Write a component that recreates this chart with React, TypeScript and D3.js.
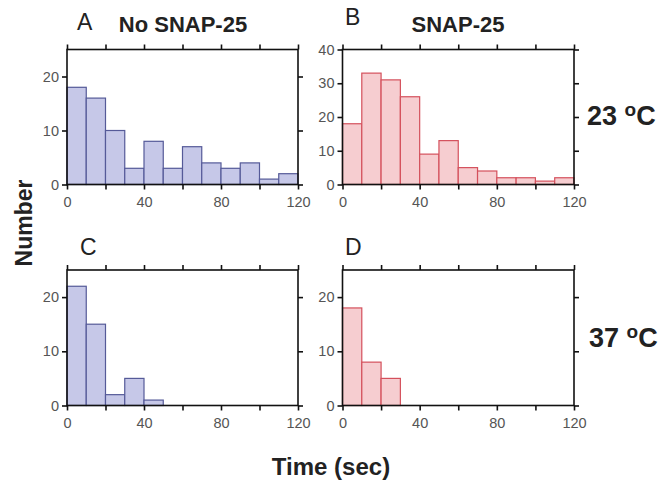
import React, { useEffect, useRef } from "react";
import * as d3 from "d3";

// bin starts (sec), 10 s wide
const binStarts = [0, 10, 20, 30, 40, 50, 60, 70, 80, 90, 100, 110];
// counts per bin
const noSnap23 = [18, 16, 10, 3, 8, 3, 7, 4, 3, 4, 1, 2];
const snap23 = [18, 33, 31, 26, 9, 13, 5, 4, 2, 2, 1, 2];
const noSnap37 = [22, 15, 2, 5, 1, 0, 0, 0, 0, 0, 0, 0];
const snap37 = [18, 8, 5, 0, 0, 0, 0, 0, 0, 0, 0, 0];

const xTickVals = [0, 20, 40, 60, 80, 100, 120];
const xTickLabels = [0, 40, 80, 120];
const yTicksSmall = [0, 10, 20];
const yTicksBig = [0, 10, 20, 30, 40];

const BLUE = { fill: "#c6c8e8", stroke: "#555a98" };
const RED = { fill: "#f6cdd0", stroke: "#d4505c" };

const FONT = "'Liberation Sans', Arial, Helvetica, sans-serif";

export default function App() {
  const ref = useRef<SVGSVGElement>(null);

  useEffect(() => {
    const width = 665;
    const height = 481;
    const svg = d3.select(ref.current).attr("width", width).attr("height", height);
    svg.selectAll("*").remove();

    svg.append("rect").attr("width", width).attr("height", height).attr("fill", "#fff");

    const panels = [
      { letter: "A", lx: 77, ly: 30, counts: noSnap23, col: BLUE, x0: 67, x1: 298, top: 49.5, bot: 184.5, yMax: 25, yTicks: yTicksSmall },
      { letter: "B", lx: 345, ly: 25, counts: snap23, col: RED, x0: 342.5, x1: 574, top: 49.5, bot: 184.5, yMax: 40, yTicks: yTicksBig },
      { letter: "C", lx: 80, ly: 255, counts: noSnap37, col: BLUE, x0: 67, x1: 298, top: 270, bot: 405.5, yMax: 25, yTicks: yTicksSmall },
      { letter: "D", lx: 345, ly: 255, counts: snap37, col: RED, x0: 342.5, x1: 574, top: 270, bot: 405.5, yMax: 25, yTicks: yTicksSmall },
    ];

    panels.forEach((p) => {
      const x = d3.scaleLinear().domain([0, 120]).range([p.x0, p.x1]);
      const y = d3.scaleLinear().domain([0, p.yMax]).range([p.bot, p.top]);
      const g = svg.append("g");

      // bars
      g.selectAll(".bar")
        .data(p.counts)
        .join("rect")
        .attr("class", "bar")
        .attr("x", (_, i) => x(binStarts[i]))
        .attr("y", (d) => y(d))
        .attr("width", x(10) - x(0))
        .attr("height", (d) => y(0) - y(d))
        .attr("fill", p.col.fill)
        .attr("stroke", p.col.stroke)
        .attr("stroke-width", 1.2);

      // frame
      g.append("rect")
        .attr("x", p.x0)
        .attr("y", p.top)
        .attr("width", p.x1 - p.x0)
        .attr("height", p.bot - p.top)
        .attr("fill", "none")
        .attr("stroke", "#111")
        .attr("stroke-width", 1.6);

      const styleAxis = (a: any) => {
        a.select(".domain").remove();
        a.selectAll("line").attr("stroke", "#111").attr("stroke-width", 1.6);
        a.selectAll("text")
          .attr("fill", "#555")
          .attr("font-size", 14.5)
          .attr("font-family", FONT);
      };

      const bottom = g
        .append("g")
        .attr("transform", `translate(0,${p.bot})`)
        .call(
          d3
            .axisBottom(x)
            .tickValues(xTickVals)
            .tickSize(5)
            .tickPadding(7)
            .tickFormat((d) => (xTickLabels.includes(+d) ? String(d) : ""))
        );
      styleAxis(bottom);

      const topAx = g
        .append("g")
        .attr("transform", `translate(0,${p.top})`)
        .call(d3.axisTop(x).tickValues(xTickVals).tickSize(5).tickFormat(() => ""));
      styleAxis(topAx);

      const left = g
        .append("g")
        .attr("transform", `translate(${p.x0},0)`)
        .call(d3.axisLeft(y).tickValues(p.yTicks).tickSize(5).tickPadding(3).tickFormat(d3.format("d")));
      styleAxis(left);

      const right = g
        .append("g")
        .attr("transform", `translate(${p.x1},0)`)
        .call(d3.axisRight(y).tickValues(p.yTicks).tickSize(5).tickFormat(() => ""));
      styleAxis(right);

      // panel letter
      svg
        .append("text")
        .attr("x", p.lx)
        .attr("y", p.ly)
        .attr("font-family", FONT)
        .attr("font-size", 23)
        .attr("fill", "#222")
        .text(p.letter);
    });

    const bold = (t: any) =>
      t.attr("font-family", FONT).attr("font-weight", "bold").attr("fill", "#222");

    // column titles
    bold(svg.append("text"))
      .attr("x", 183)
      .attr("y", 32)
      .attr("text-anchor", "middle")
      .attr("font-size", 22)
      .text("No SNAP-25");
    bold(svg.append("text"))
      .attr("x", 458)
      .attr("y", 32)
      .attr("text-anchor", "middle")
      .attr("font-size", 22)
      .text("SNAP-25");

    // temperature labels
    const temp = (label: string, xPos: number, yPos: number) => {
      const t = bold(svg.append("text")).attr("x", xPos).attr("y", yPos).attr("font-size", 27);
      t.append("tspan").text(label + " ");
      t.append("tspan").attr("font-size", 19).attr("dy", -9.5).text("o");
      t.append("tspan").attr("dy", 9.5).text("C");
    };
    temp("23", 587, 125);
    temp("37", 589, 347);

    // axis titles
    bold(svg.append("text"))
      .attr("transform", "translate(32,223) rotate(-90)")
      .attr("text-anchor", "middle")
      .attr("font-size", 23)
      .text("Number");
    bold(svg.append("text"))
      .attr("x", 331)
      .attr("y", 475)
      .attr("text-anchor", "middle")
      .attr("font-size", 24)
      .text("Time (sec)");
  }, []);

  return <svg ref={ref} style={{ position: "absolute", left: 0, top: 0 }} />;
}
